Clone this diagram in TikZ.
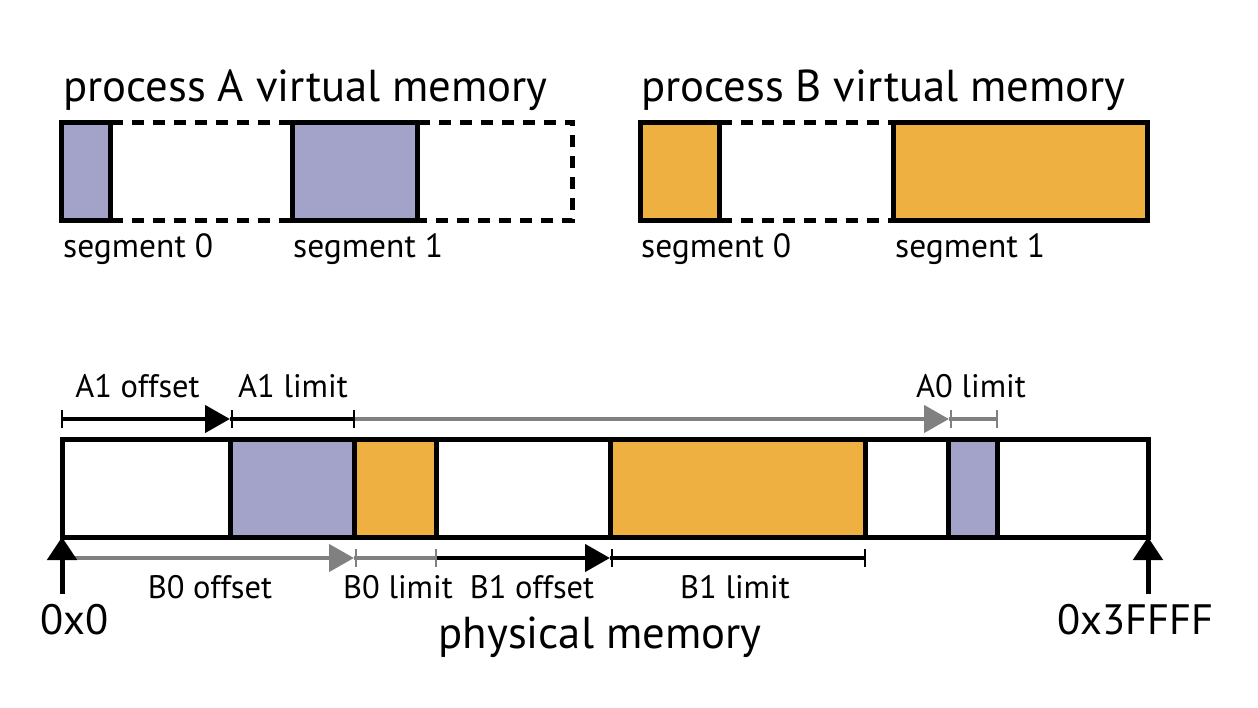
\documentclass[tikz,border=0pt]{standalone}
\usepackage{fontspec}
\setmainfont{PT Sans}
\usetikzlibrary{arrows.meta}
\definecolor{segpurple}{HTML}{A3A3C9}
\definecolor{segorange}{HTML}{EEB040}
\definecolor{dimgray}{HTML}{808080}
\begin{document}
\begin{tikzpicture}[x=1pt,y=-1pt,
  box/.style={draw=black,line width=5pt,inner sep=0pt,outer sep=0pt},
  purp/.style={box,fill=segpurple},
  oran/.style={box,fill=segorange},
  emptybox/.style={box,fill=white},
  virt/.style={draw=black,line width=5pt,dash pattern=on 12pt off 9pt},
  title/.style={font=\fontsize{44.7}{48}\selectfont,anchor=base west,inner sep=0pt},
  seglbl/.style={font=\fontsize{33.5}{37}\selectfont,anchor=base west,inner sep=0pt},
  lbl/.style={font=\fontsize{32.5}{36}\selectfont,anchor=base,inner sep=0pt},
  addr/.style={font=\fontsize{42.5}{46}\selectfont,anchor=base west,inner sep=0pt},
  dimk/.style={line width=4.5pt,draw=black},
  dimg/.style={line width=4.5pt,draw=dimgray},
  tickk/.style={line width=2.5pt,draw=black},
  tickg/.style={line width=2.5pt,draw=dimgray},
  tip/.style={-{Triangle[length=25pt,width=27pt]}},
  uptip/.style={line width=5pt,-{Triangle[length=23pt,width=29pt]}},
]
\useasboundingbox (0,0) rectangle (1258,708);

% ---------- process A virtual memory ----------
\node[title] (tA) at (63,102) {process A virtual memory};
\node[purp,minimum width=49pt,minimum height=98pt] (a0) at (86,171.5) {};
\node[purp,minimum width=125pt,minimum height=98pt] (a1) at (355,171.5) {};
\coordinate (aNE) at (572.5,122.5);
\coordinate (aSE) at (572.5,220.5);
\draw[virt] (a0.north east) -- (a1.north west);
\draw[virt] (a0.south east) -- (a1.south west);
\draw[virt] (a1.north east) -- (aNE) -- (aSE) -- (a1.south east);
\node[seglbl] (la0) at (63,258) {segment 0};
\node[seglbl] (la1) at (293,258) {segment 1};

% ---------- process B virtual memory ----------
\node[title] (tB) at (641,102) {process B virtual memory};
\node[oran,minimum width=79pt,minimum height=98pt] (b0) at (680,171.5) {};
\node[oran,minimum width=254pt,minimum height=98pt] (b1) at (1020.5,171.5) {};
\draw[virt] (b0.north east) -- (b1.north west);
\draw[virt] (b0.south east) -- (b1.south west);
\node[seglbl] (lb0) at (641,258) {segment 0};
\node[seglbl] (lb1) at (895,258) {segment 1};

% ---------- physical memory ----------
\node[emptybox,minimum width=1086pt,minimum height=98pt] (phys) at (605,488) {};
\node[purp,minimum width=124pt,minimum height=98pt] (pa1) at (292,488) {};
\node[oran,minimum width=82pt,minimum height=98pt] (pb0) at (395,488) {};
\node[oran,minimum width=255pt,minimum height=98pt] (pb1) at (737.5,488) {};
\node[purp,minimum width=49pt,minimum height=98pt] (pa0) at (973,488) {};

% top dimension lines
\coordinate (t0) at (62,419);
\coordinate (t1) at (230,419);
\coordinate (t2) at (354,419);
\coordinate (t3) at (949,419);
\coordinate (t4) at (997,419);
\draw[dimg,tip] (t2) -- (t3);
\draw[dimg] (t3) -- (t4);
\draw[dimk,tip] (t0) -- (t1);
\draw[dimk] (t1) -- (t2);
\draw[tickk] ([yshift=-9pt]t0) -- ([yshift=9pt]t0);
\draw[tickk] ([xshift=2pt,yshift=-9pt]t1) -- ([xshift=2pt,yshift=9pt]t1);
\draw[tickk] ([yshift=-9pt]t2) -- ([yshift=9pt]t2);
\draw[tickg] ([xshift=2pt,yshift=-9pt]t3) -- ([xshift=2pt,yshift=9pt]t3);
\draw[tickg] ([yshift=-9pt]t4) -- ([yshift=9pt]t4);
\node[lbl] (lA1o) at (137.5,398) {A1 offset};
\node[lbl] (lA1l) at (293,398) {A1 limit};
\node[lbl] (lA0l) at (971,398) {A0 limit};

% bottom dimension lines
\coordinate (u0) at (62,558);
\coordinate (u1) at (354,558);
\coordinate (u2) at (436,558);
\coordinate (u3) at (610,558);
\coordinate (u4) at (865,558);
\draw[dimg,tip] (u0) -- (u1);
\draw[dimg] (u1) -- (u2);
\draw[dimk,tip] (u2) -- (u3);
\draw[dimk] (u3) -- (u4);
\draw[tickg] ([xshift=2pt,yshift=-9pt]u1) -- ([xshift=2pt,yshift=9pt]u1);
\draw[tickg] ([yshift=-9pt]u2) -- ([yshift=9pt]u2);
\draw[tickk] ([xshift=2pt,yshift=-9pt]u3) -- ([xshift=2pt,yshift=9pt]u3);
\draw[tickk] ([yshift=-9pt]u4) -- ([yshift=9pt]u4);
\node[lbl] (lB0o) at (210,598) {B0 offset};
\node[lbl] (lB0l) at (398,598) {B0 limit};
\node[lbl] (lB1o) at (532,598) {B1 offset};
\node[lbl] (lB1l) at (735,598) {B1 limit};

% address arrows
\coordinate (s0) at (62,594);
\coordinate (s1) at (1148,594);
\draw[uptip] (s0) -- (phys.south west);
\draw[uptip] (s1) -- (phys.south east);
\node[addr] (l0) at (40,634) {0x0};
\node[addr] (l1) at (1057,634) {0x3FFFF};
\node[title,anchor=base] (lphys) at (600,648) {physical memory};
\end{tikzpicture}
\end{document}
